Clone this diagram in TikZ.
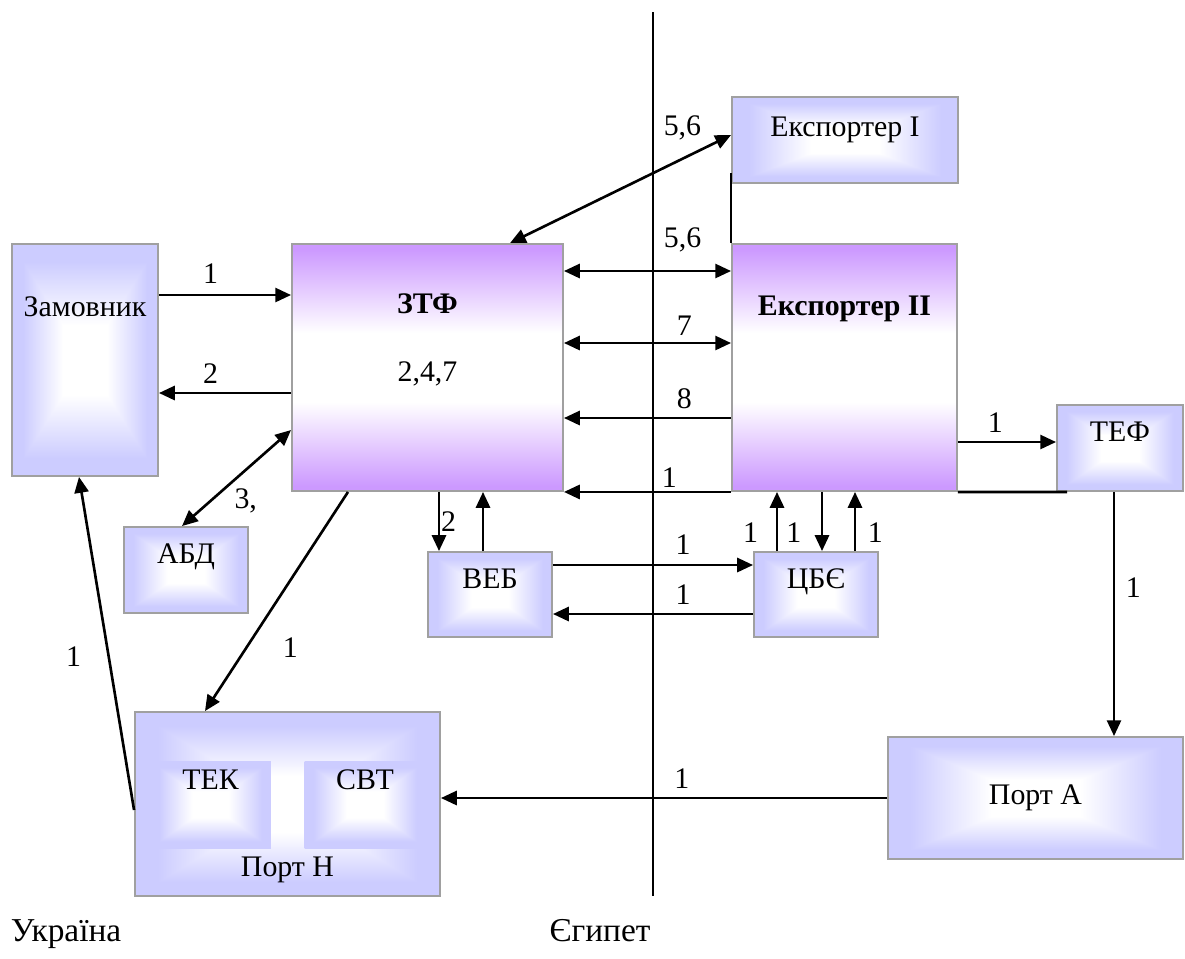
\documentclass[tikz,border=0pt]{standalone}
\usepackage{fontspec}
\setmainfont{Liberation Serif}
\usepackage{xcolor}
\definecolor{lavender}{RGB}{204, 204, 255}
\definecolor{corepurple}{RGB}{204, 153, 255}
\definecolor{edge}{RGB}{160, 160, 160}
\usepackage{tikz}
\usetikzlibrary{arrows.meta,positioning}

% light boxes: white centre fading to lavender at the rim
\pgfdeclarefunctionalshading{glow}{\pgfpoint{-50bp}{-50bp}}{\pgfpoint{50bp}{50bp}}{}{
  abs exch abs 2 copy lt {exch} if pop 25 div
  0.3 sub 0.55 div dup 0 lt {pop 0} if dup 1 gt {pop 1} if
  dup 0.2 mul 1 exch sub exch 0.2 mul 1 exch sub 1
}
% main boxes: purple at top and bottom, white band in the middle
\pgfdeclareverticalshading{band}{100bp}{color(0bp)=(corepurple); color(26bp)=(corepurple);
  color(43bp)=(white); color(57bp)=(white); color(74bp)=(corepurple); color(100bp)=(corepurple)}

\begin{document}
\begin{tikzpicture}[
  x=0.02cm, y=-0.02cm,
  font=\fontsize{17}{20}\selectfont,
  box/.style={draw=edge, line width=1.1pt, shading=glow, inner sep=0pt},
  core/.style={draw=edge, line width=1.1pt, shading=band, inner sep=0pt},
  inbox/.style={shading=glow, inner sep=0pt},
  lbl/.style={inner sep=0pt},
  land/.style={font=\fontsize{19}{22}\selectfont, anchor=base},
  arrow/.style={-{Triangle[length=9pt,width=8pt]}, line width=1.5pt},
  both/.style={{Triangle[length=9pt,width=8pt]}-{Triangle[length=9pt,width=8pt]}, line width=1.5pt}
]
\useasboundingbox (0,0) rectangle (1185,958);

% boxes
\node[box, minimum width=2.92cm, minimum height=4.64cm] (zam) at (85,360) {};
\node[core, minimum width=5.42cm, minimum height=4.94cm] (ztf) at (427.5,367.5) {};
\node[box, minimum width=4.52cm, minimum height=1.72cm] (expI) at (845,140) {};
\node[core, minimum width=4.50cm, minimum height=4.94cm] (expII) at (844.5,367.5) {};
\node[box, minimum width=2.52cm, minimum height=1.72cm] (tef) at (1120,448) {};
\node[box, minimum width=2.48cm, minimum height=1.72cm] (abd) at (186,570) {};
\node[box, minimum width=2.48cm, minimum height=1.70cm] (veb) at (490,594.5) {};
\node[box, minimum width=2.48cm, minimum height=1.70cm] (cbe) at (816,594.5) {};
\node[box, minimum width=6.10cm, minimum height=3.68cm] (portn) at (287.5,804) {};
\node[inbox, minimum width=2.42cm, minimum height=1.74cm] (tek) at (210.5,804.5) {};
\node[inbox, minimum width=2.42cm, minimum height=1.74cm] (svt) at (365,804.5) {};
\node[box, minimum width=5.90cm, minimum height=2.44cm] (porta) at (1035.5,798) {Порт А};

% texts in the boxes
\node at ([yshift=-1.28cm]zam.north) {Замовник};
\node[font=\fontsize{17}{20}\selectfont\bfseries] at ([yshift=-1.22cm]ztf.north) {ЗТФ};
\node at ([yshift=-2.62cm]ztf.north) {2,4,7};
\node at ([yshift=-0.68cm]expI.north) {Експортер I};
\node[font=\fontsize{17}{20}\selectfont\bfseries] at ([yshift=-1.32cm]expII.north) {Експортер II};
\node at ([yshift=-0.56cm]tef.north) {ТЕФ};
\node at ([yshift=-0.62cm]abd.north) {АБД};
\node at ([yshift=-0.56cm]veb.north) {ВЕБ};
\node at ([yshift=-0.62cm]cbe.north) {ЦБЄ};
\node at ([yshift=-0.38cm]tek.north) {ТЕК};
\node at ([yshift=-0.38cm]svt.north) {СВТ};
\node at ([yshift=0.54cm]portn.south) {Порт Н};

% border line and countries
\coordinate (top) at (653,12);
\coordinate (bottom) at (653,896);
\draw[line width=1.1pt] (top) -- (bottom);
\node[land] (ua) at (66,941) {Україна};
\node[land] (eg) at (600,941) {Єгипет};

% connectors
\draw[arrow] (zam.east |- 0,295) -- node[lbl, above=5.6pt, pos=0.39] {1} (ztf.west |- 0,295);
\draw[arrow] (ztf.west |- 0,393) -- node[lbl, above=4.4pt, pos=0.61] {2} (zam.east |- 0,393);
\draw[both] (abd.north -| 182,0) -- node[lbl, right=13pt, pos=0.26] {3,} (ztf.west |- 0,430);
\draw[arrow] (ztf.south -| 348,0) -- node[lbl, right=20pt, pos=0.71] {1} (portn.north -| 205,0);
\draw[arrow] (portn.west |- 0,810) -- node[lbl, left=15pt, pos=0.46] {1} (zam.south -| 79,0);

\draw[both] (expI.west |- 0,135) -- node[lbl, above=10pt, pos=0.22] {5,6} (ztf.north -| 510,0);
\draw[line width=1.5pt] (expI.west |- 0,173) -- (expII.north west);
\draw[both] (ztf.east |- 0,271) -- node[lbl, above=10pt, pos=0.71] {5,6} (expII.west |- 0,271);
\draw[both] (ztf.east |- 0,343) -- node[lbl, above=3.3pt, pos=0.72] {7} (expII.west |- 0,343);
\draw[arrow] (expII.west |- 0,418) -- node[lbl, above=4.4pt, pos=0.28] {8} (ztf.east |- 0,418);
\draw[arrow] (expII.south west) -- node[lbl, above=1.6pt, pos=0.37] {1} (ztf.south east);

\draw[arrow] (expII.east |- 0,442) -- node[lbl, above=4.4pt, pos=0.38] {1} (tef.west |- 0,442);
\draw[line width=1.5pt] (expII.south east) -- ([xshift=0.22cm]tef.south west);
\draw[arrow] (tef.south -| 1114,0) -- node[lbl, right=6pt, pos=0.39] {1} (porta.north -| 1114,0);
\draw[arrow] (porta.west) -- node[lbl, above=4.4pt, pos=0.46] {1} (portn.east |- porta.west);

\draw[arrow] (ztf.south -| 439,0) -- node[lbl, right=0.5pt, pos=0.51] {2} (veb.north -| 439,0);
\draw[arrow] (veb.north -| 483,0) -- (ztf.south -| 483,0);
\draw[arrow] (veb.east |- 0,565) -- node[lbl, above=5pt, pos=0.65] {1} (cbe.west |- 0,565);
\draw[arrow] (cbe.west |- 0,614) -- node[lbl, above=4.4pt, pos=0.35] {1} (veb.east |- 0,614);

\draw[arrow] (cbe.north -| 777,0) -- node[lbl, left=10pt, pos=0.31] {1} (expII.south -| 777,0);
\draw[arrow] (expII.south -| 822,0) -- node[lbl, left=11pt, pos=0.69] {1} (cbe.north -| 822,0);
\draw[arrow] (cbe.north -| 855,0) -- node[lbl, right=6.5pt, pos=0.31] {1} (expII.south -| 855,0);
\end{tikzpicture}
\end{document}
